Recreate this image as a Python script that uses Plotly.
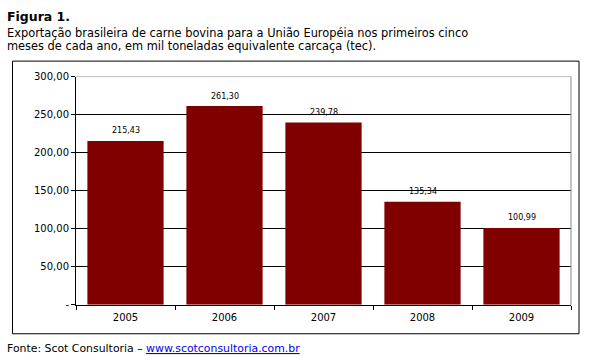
import plotly.graph_objects as go

years = ["2005", "2006", "2007", "2008", "2009"]
values = [215.43, 261.30, 239.78, 135.34, 100.99]
value_labels = ["215,43", "261,30", "239,78", "135,34", "100,99"]
y_tickvals = [0, 50, 100, 150, 200, 250, 300]
y_ticktext = ["-", "50,00", "100,00", "150,00", "200,00", "250,00", "300,00"]

W, H = 589, 362
def px(x): return x / W
def py(y): return 1 - y / H

FONT = "DejaVu Sans, Verdana, sans-serif"

fig = go.Figure()
fig.add_trace(go.Bar(x=years, y=values, marker=dict(color="#800000", line=dict(width=0)),
                     width=0.77, hoverinfo="skip"))

annotations = []
for i, (v, lab) in enumerate(zip(values, value_labels)):
    annotations.append(dict(x=i, y=v, xref="x", yref="y", text=lab, showarrow=False,
                            yshift=10, font=dict(family=FONT, size=8, color="black")))

annotations += [
    dict(x=px(5), y=py(1), xref="paper", yref="paper", xanchor="left", yanchor="top",
         text="<b>Figura 1.</b>", showarrow=False, font=dict(family=FONT, size=12.5, color="black")),
    dict(x=px(5), y=py(18.5), xref="paper", yref="paper", xanchor="left", yanchor="top",
         text="Exportação brasileira de carne bovina para a União Européia nos primeiros cinco",
         showarrow=False, font=dict(family=FONT, size=11.4, color="black")),
    dict(x=px(5), y=py(32), xref="paper", yref="paper", xanchor="left", yanchor="top",
         text="meses de cada ano, em mil toneladas equivalente carcaça (tec).",
         showarrow=False, font=dict(family=FONT, size=11.4, color="black")),
    dict(x=px(5), y=py(345), xref="paper", yref="paper", xanchor="left", yanchor="top",
         text="Fonte: Scot Consultoria – <span style='text-decoration:underline;fill:#0000ee'>www.scotconsultoria.com.br</span>",
         showarrow=False, font=dict(family=FONT, size=10.9, color="black")),
]

shapes = [
    dict(type="rect", xref="paper", yref="paper", x0=px(12.5), x1=px(579), y0=py(339), y1=py(57),
         line=dict(color="black", width=1)),
    dict(type="line", xref="paper", yref="y", x0=px(76), x1=px(571), y0=300, y1=300,
         line=dict(color="#888888", width=1)),
    dict(type="line", xref="paper", yref="paper", x0=px(571), x1=px(571), y0=py(309), y1=py(73),
         line=dict(color="#888888", width=1)),
]

fig.update_layout(
    width=W, height=H,
    margin=dict(l=0, r=0, t=0, b=0),
    paper_bgcolor="white", plot_bgcolor="white",
    showlegend=False,
    annotations=annotations, shapes=shapes,
    xaxis=dict(type="category", domain=[px(76), px(571)], range=[-0.5, 4.5],
               showline=True, linecolor="black", linewidth=1,
               ticks="outside", tickson="boundaries", ticklen=4, tickcolor="black",
               ticklabelstandoff=3,
               showgrid=False, tickfont=dict(family=FONT, size=10, color="black")),
    yaxis=dict(domain=[py(309), py(73)], range=[0, 300], tickvals=y_tickvals, ticktext=y_ticktext,
               showline=True, linecolor="black", linewidth=1, ticks="outside", ticklen=4,
               tickcolor="black", showgrid=True, gridcolor="black", gridwidth=1,
               zeroline=False, tickfont=dict(family=FONT, size=10, color="black")),
)

fig.write_html("out.html", config={"displayModeBar": False},
               post_script="document.body.style.margin='0';document.body.style.overflow='hidden';")
